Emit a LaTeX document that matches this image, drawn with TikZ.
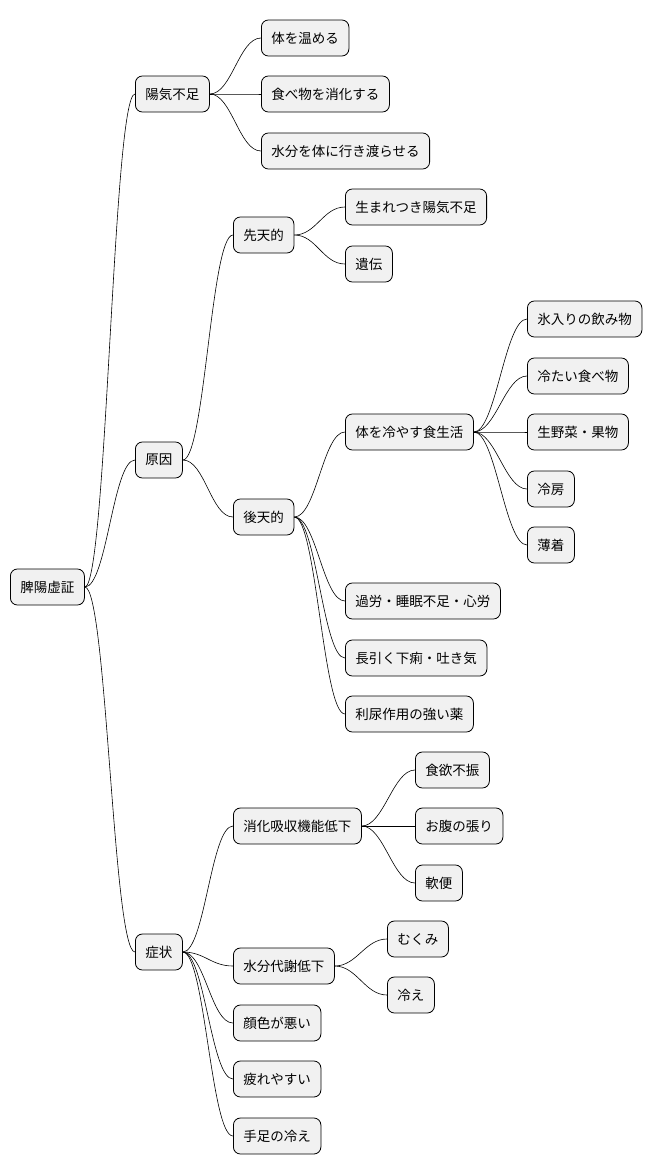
\documentclass[tikz,border=0pt]{standalone}
\usepackage{fontspec}
\setmainfont{Noto Sans CJK JP}
\begin{document}
\begin{tikzpicture}[x=1pt,y=-1pt,
  box/.style={draw=black,fill={rgb,255:red,241;green,241;blue,241},rounded corners=7pt,
    minimum height=36pt,inner xsep=10pt,inner ysep=0pt,anchor=west,font=\fontsize{13.5pt}{16pt}\selectfont,line width=0.8pt},
  con/.style={line width=0.6pt}]
\useasboundingbox (0,0) rectangle (656,1175);
\node[box] (r) at (10,587) {脾陽虚証};
\node[box] (a) at (135,94) {陽気不足};
\node[box] (a1) at (261,38) {体を温める};
\node[box] (a2) at (261,94) {食べ物を消化する};
\node[box] (a3) at (261,151) {水分を体に行き渡らせる};
\node[box] (b) at (135,460) {原因};
\node[box] (b1) at (233,235) {先天的};
\node[box] (b11) at (345,207) {生まれつき陽気不足};
\node[box] (b12) at (345,264) {遺伝};
\node[box] (b2) at (233,517) {後天的};
\node[box] (b21) at (345,432) {体を冷やす食生活};
\node[box] (c1) at (527,319) {氷入りの飲み物};
\node[box] (c2) at (527,376) {冷たい食べ物};
\node[box] (c3) at (527,432) {生野菜・果物};
\node[box] (c4) at (527,489) {冷房};
\node[box] (c5) at (527,545) {薄着};
\node[box] (b22) at (345,601) {過労・睡眠不足・心労};
\node[box] (b23) at (345,658) {長引く下痢・吐き気};
\node[box] (b24) at (345,714) {利尿作用の強い薬};
\node[box] (s) at (135,952) {症状};
\node[box] (s1) at (233,826) {消化吸収機能低下};
\node[box] (s11) at (415,770) {食欲不振};
\node[box] (s12) at (415,826) {お腹の張り};
\node[box] (s13) at (415,883) {軟便};
\node[box] (s2) at (233,966) {水分代謝低下};
\node[box] (s21) at (387,939) {むくみ};
\node[box] (s22) at (387,995) {冷え};
\node[box] (s3) at (233,1023) {顔色が悪い};
\node[box] (s4) at (233,1079) {疲れやすい};
\node[box] (s5) at (233,1136) {手足の冷え};
\foreach \p/\c in {r/a,r/b,r/s,a/a1,a/a2,a/a3,b/b1,b/b2,b1/b11,b1/b12,b2/b21,b2/b22,b2/b23,b2/b24,
  b21/c1,b21/c2,b21/c3,b21/c4,b21/c5,s/s1,s/s2,s/s3,s/s4,s/s5,s1/s11,s1/s12,s1/s13,s2/s21,s2/s22}
  \draw[con] (\p.east) .. controls ([xshift=22pt]\p.east) and ([xshift=-22pt]\c.west) .. (\c.west);
\end{tikzpicture}
\end{document}
